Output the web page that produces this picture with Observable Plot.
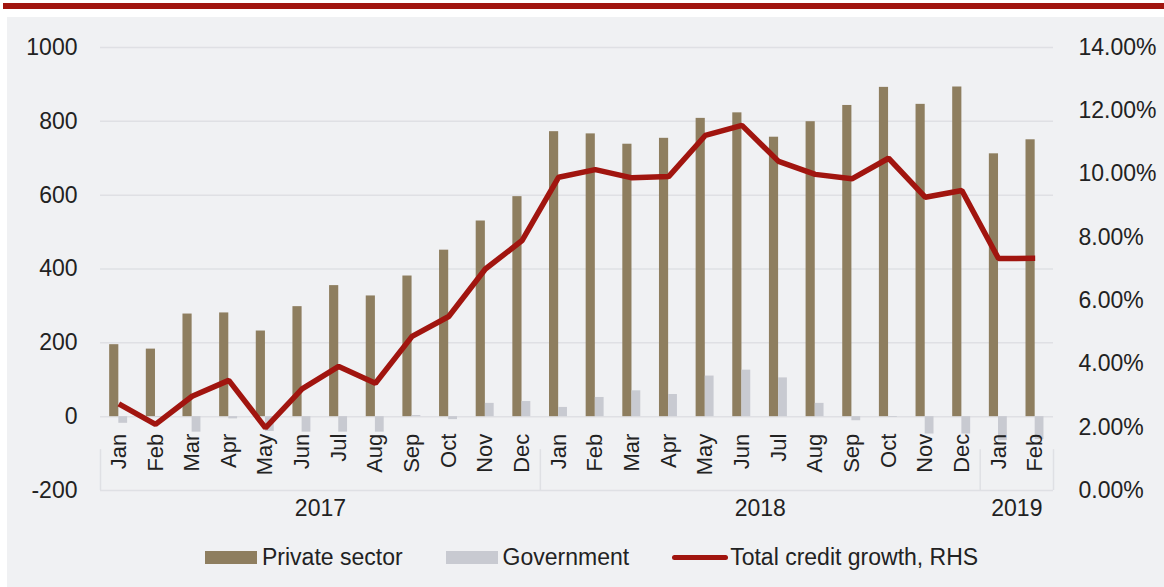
<!DOCTYPE html>
<html>
<head>
<meta charset="utf-8">
<script src="https://cdn.jsdelivr.net/npm/d3@7"></script>
<script src="https://cdn.jsdelivr.net/npm/@observablehq/plot@0.6"></script>
<style>
  html, body { margin: 0; padding: 0; background: #ffffff; width: 1164px; height: 587px; overflow: hidden; }
  #redbar { position: absolute; left: 3px; top: 3px; width: 1161px; height: 6px; background: #a1150f; }
  #panel { position: absolute; left: 7px; top: 17px; width: 1157px; height: 570px; background: #f0f1f3; }
  #chart { position: absolute; left: 0; top: 0; }
  #legend { position: absolute; left: 0; top: 518px; width: 1157px; height: 52px; display: flex; align-items: center;
            padding-left: 198px; box-sizing: border-box; font-family: "Liberation Sans", Arial, sans-serif; font-size: 23px; color: #222; }
  .item { display: flex; align-items: center; margin-right: 43px; margin-top: -8px; }
  .sw { width: 52px; height: 13px; margin-right: 5px; }
  .ln { width: 56px; height: 5px; border-radius: 3px; margin-right: 2px; }
</style>
</head>
<body>
<div id="redbar"></div>
<div id="panel">
  <div id="chart"></div>
  <div id="legend">
    <div class="item"><div class="sw" style="background:#8e7e5f"></div><span>Private sector</span></div>
    <div class="item"><div class="sw" style="background:#c8cad1"></div><span>Government</span></div>
    <div class="item"><div class="ln" style="background:#a1150f"></div><span>Total credit growth, RHS</span></div>
  </div>
</div>
<script>
const months = ["Jan","Feb","Mar","Apr","May","Jun","Jul","Aug","Sep","Oct","Nov","Dec",
                "Jan","Feb","Mar","Apr","May","Jun","Jul","Aug","Sep","Oct","Nov","Dec",
                "Jan","Feb"];
const privateSector = [195,183,278,281,232,298,355,327,381,451,530,596,
                       772,766,738,754,808,823,757,799,843,892,846,893,
                       712,750];
const government = [-18,-2,-42,-6,-40,-42,-42,-42,3,-8,36,41,
                    25,52,70,60,110,126,105,36,-11,-2,-47,-47,
                    -65,-62];
const growth = [2.74,2.09,2.98,3.48,1.98,3.21,3.92,3.39,4.87,5.5,7.0,7.9,
                9.9,10.14,9.88,9.92,11.22,11.54,10.4,9.99,9.85,10.5,9.27,9.48,
                7.33,7.34];
const years = ["2017","2018","2019"];
const yearStarts = [0,12,24];
const yearEnds = [12,24,26];
const leftTicks = [-200,0,200,400,600,800,1000];
const rightTicks = [0,2,4,6,8,10,12,14];

const N = months.length;
const rows = months.map((m, i) => ({i, month: m, priv: privateSector[i], gov: government[i], growth: growth[i]}));
const yearRows = years.map((y, k) => ({year: y, start: yearStarts[k], end: yearEnds[k]}));
const toLeft = p => -200 + p * 1200 / 14;
const fromLeft = v => (v + 200) * 14 / 1200;
const grid = "#dfe0e4";

const chart = Plot.plot({
  width: 1157,
  height: 518,
  marginLeft: 93,
  marginRight: 111,
  marginTop: 30,
  marginBottom: 45,
  style: {background: "transparent", fontFamily: "'Liberation Sans', Arial, sans-serif", fontSize: "23px", color: "#222", overflow: "visible"},
  x: {domain: [0, N], axis: null},
  y: {domain: [-200, 1000], axis: null},
  marks: [
    Plot.ruleY(leftTicks, {stroke: grid, strokeWidth: 1.5}),
    Plot.ruleX(yearStarts.concat([N]), {y1: -200, y2: 0, insetBottom: -33, stroke: grid, strokeWidth: 1.5}),
    Plot.rect(rows, {x1: d => d.i + 0.25, x2: d => d.i + 0.5, y1: 0, y2: d => d.priv, fill: "#8e7e5f"}),
    Plot.rect(rows, {x1: d => d.i + 0.5, x2: d => d.i + 0.74, y1: 0, y2: d => d.gov, fill: "#c8cad1"}),
    Plot.line(rows, {x: d => d.i + 0.5, y: d => toLeft(d.growth), stroke: "#a1150f", strokeWidth: 5.5,
                     strokeLinejoin: "miter", strokeLinecap: "butt"}),
    Plot.axisY({anchor: "left", ticks: leftTicks, tickSize: 0, tickPadding: 23, tickFormat: d => String(d)}),
    Plot.axisY({anchor: "right", ticks: rightTicks.map(toLeft), tickSize: 0, tickPadding: 25,
                tickFormat: v => fromLeft(v).toFixed(2) + "%"}),
    Plot.text(rows, {x: d => d.i + 0.5, y: 0, text: "month", rotate: -90, textAnchor: "end", dy: 17, fontSize: 22}),
    Plot.text(yearRows, {x: d => (d.start + d.end) / 2, y: -200, text: "year", dy: 18})
  ]
});
document.getElementById("chart").appendChild(chart);
</script>
</body>
</html>
